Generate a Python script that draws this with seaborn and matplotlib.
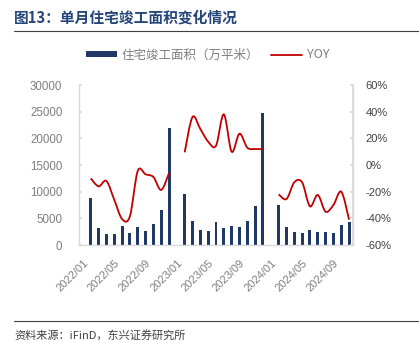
import numpy as np
import pandas as pd
import matplotlib
matplotlib.use("Agg")
import matplotlib.pyplot as plt
from matplotlib.path import Path
from matplotlib.patches import PathPatch, Patch
from matplotlib.lines import Line2D
from matplotlib.ticker import FuncFormatter, MultipleLocator
import seaborn as sns

nan = np.nan

# Monthly categories, 2022/01 - 2024/11 (January is reported together with February)
months = [f"{y}/{m:02d}" for y in (2022, 2023, 2024) for m in range(1, 13)][:35]

# Residential completion area, 10k m²
area_2022 = [nan, 8800, 3250, 2150, 2150, 3650, 2200, 3300, 2650, 4000, 6500, 21900]
area_2023 = [nan, 9600, 4450, 2750, 2600, 4250, 3200, 3600, 3350, 4550, 7300, 24700]
area_2024 = [nan, 7500, 3300, 2400, 2250, 2900, 2450, 2400, 2300, 3700, 4300]

# Year-on-year change, %
yoy_2022 = [nan, -10, -16, -12, -26, -40.5, -38.5, -4.5, -7, -9, -18.7, -6]
yoy_2023 = [nan, 9.5, 36, 27, 17.5, 14.5, 38, 10, 23.5, 13, 12, 12]
yoy_2024 = [nan, -22, -25.5, -13, -13, -31, -22.5, -35, -30, -20, -41]

tick_every = 4

area = area_2022 + area_2023 + area_2024
yoy = yoy_2022 + yoy_2023 + yoy_2024
df = pd.DataFrame({"month": months, "area": area, "yoy": yoy})

BAR = "#1F3864"
RED = "#C00000"
SPINE = "#D9D9D9"

sns.set_theme(style="white")
plt.rcParams["font.family"] = ["Liberation Sans", "Noto Sans CJK SC", "DejaVu Sans"]

fig = plt.figure(figsize=(4.19, 3.43), dpi=100)
ax = fig.add_axes([79 / 419, 1 - 245 / 343, (353 - 79) / 419, 160 / 343])

sns.barplot(data=df.dropna(subset=["area"]), x="month", y="area", order=months,
            color=BAR, saturation=1, width=0.38, errorbar=None, ax=ax)
for p in ax.patches:
    p.set_linewidth(0)
ax.set_xlim(-0.5, len(months) - 0.5)
ax.set_ylim(0, 30000)
ax.yaxis.set_major_locator(MultipleLocator(5000))
ax.set_xlabel("")
ax.set_ylabel("")
idx = list(range(0, len(months), tick_every))
ax.set_xticks(idx)
ax.set_xticklabels([months[i] for i in idx], rotation=45, ha="right",
                   rotation_mode="anchor", fontsize=8, color="#7F7F7F")
ax.tick_params(axis="x", length=0, pad=9)
ax.tick_params(axis="y", direction="in", length=2.5, color=SPINE,
               labelsize=8.3, labelcolor="#7F7F7F", pad=12)
ax.spines["top"].set_visible(False)
for s in ("left", "bottom", "right"):
    ax.spines[s].set_color(SPINE)
    ax.spines[s].set_linewidth(1.0)

ax2 = ax.twinx()
ax2.set_ylim(-60, 60)
ax2.yaxis.set_major_locator(MultipleLocator(20))
ax2.yaxis.set_major_formatter(FuncFormatter(lambda v, p: f"{v:.0f}%"))
ax2.tick_params(axis="y", direction="in", length=2.5, color=SPINE,
                labelsize=8, labelcolor="#404040", pad=9)
for s in ("top", "left", "bottom"):
    ax2.spines[s].set_visible(False)
ax2.spines["right"].set_color(SPINE)
ax2.grid(False)
ax.grid(False)


def smooth_path(xs, ys):
    pts = np.column_stack([xs, ys]).astype(float)
    n = len(pts)
    verts = [pts[0]]
    codes = [Path.MOVETO]
    for i in range(n - 1):
        p0 = pts[i - 1] if i > 0 else pts[i]
        p1, p2 = pts[i], pts[i + 1]
        p3 = pts[i + 2] if i + 2 < n else pts[i + 1]
        verts += [p1 + (p2 - p0) / 6, p2 - (p3 - p1) / 6, p2]
        codes += [Path.CURVE4] * 3
    return Path(verts, codes)


# YOY drawn as smoothed curves, one run per reporting year
x_pos = np.arange(len(months))
vals = np.array(yoy, dtype=float)
valid = ~np.isnan(vals)
start = None
for i in range(len(vals) + 1):
    ok = i < len(vals) and valid[i]
    if ok and start is None:
        start = i
    elif not ok and start is not None:
        seg = slice(start, i)
        ax2.add_patch(PathPatch(smooth_path(x_pos[seg], vals[seg]),
                                facecolor="none", edgecolor=RED, lw=1.3))
        start = None

# Title and rules
fig.text(14 / 419, 1 - 18 / 343, "图13：单月住宅竣工面积变化情况", fontsize=10.6,
         fontweight="bold", color="#24457A", va="center",
         family=["Noto Sans CJK SC", "DejaVu Sans"])
fig.add_artist(Line2D([14 / 419, 1], [1 - 31 / 343] * 2, color="#404040", lw=0.8))
fig.add_artist(Line2D([14 / 419, 1], [1 - 321 / 343] * 2, color="#404040", lw=0.8))
fig.text(14 / 419, 1 - 335 / 343, "资料来源：iFinD，东兴证券研究所", fontsize=8,
         style="italic", color="#404040", va="center",
         family=["Noto Sans CJK SC", "DejaVu Sans"])

handles = [Patch(facecolor=BAR, edgecolor="none", label="住宅竣工面积（万平米）"),
           Line2D([], [], color=RED, lw=1.3, label="YOY")]
fig.legend(handles=handles, loc="center", bbox_to_anchor=(0.495, 1 - 55 / 343),
           ncol=2, frameon=False, handlelength=2.5, handleheight=0.45,
           handletextpad=0.35, columnspacing=1.0, labelcolor="#7F7F7F",
           prop={"family": ["Noto Sans CJK SC", "DejaVu Sans"], "size": 9})

fig.savefig("out.png", dpi=100)
